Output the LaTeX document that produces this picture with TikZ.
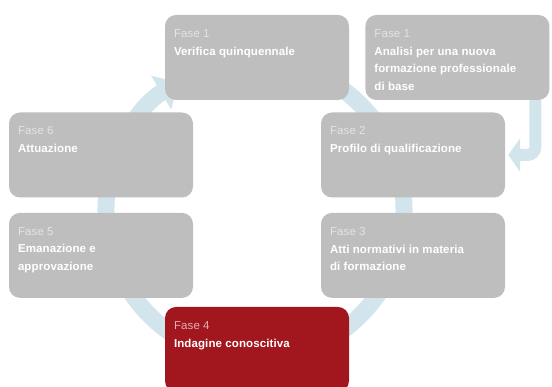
\documentclass[tikz,border=0pt]{standalone}
\usepackage{fontspec}
\setmainfont{Liberation Sans}
\newfontfamily\phasefont[LetterSpace=1]{Liberation Sans}
\usetikzlibrary{positioning,arrows.meta,calc,backgrounds}
\definecolor{phasegray}{RGB}{190,190,190}
\definecolor{phasered}{RGB}{162,22,30}
\definecolor{cyclelight}{RGB}{210,229,236}
\definecolor{labelgray}{RGB}{228,228,228}
\definecolor{labelred}{RGB}{228,176,178}

\newcommand{\fasetext}[3]{\parbox[c][85pt][t]{166pt}{\phasefont\fontsize{11.5pt}{17.8pt}\selectfont
  \vspace*{14.3pt}\textcolor{#1}{#2}\\\textbf{#3}}}

\begin{document}
\begin{tikzpicture}[
  x=1pt, y=1pt,
  phase/.style={fill=phasegray, rounded corners=11pt, text=white,
    minimum width=184pt, minimum height=85pt, inner sep=0pt},
  current/.style={phase, fill=phasered},
  cycle/.style={draw=cyclelight, line width=17pt, -{Triangle[width=38pt,length=20pt]}},
  feed/.style={draw=cyclelight, line width=12pt, rounded corners=8pt,
    -{Triangle[width=33pt,length=12pt]}}
]
\useasboundingbox (0,0) rectangle (552,387);
\clip (0,0) rectangle (552,387);
\coordinate (hub) at (255,177);

\node[phase] (verifica) at (257,329.5) {\fasetext{labelgray}{Fase 1}{Verifica quinquennale}};
\node[phase, right=16pt of verifica] (analisi)
  {\fasetext{labelgray}{Fase 1}{Analisi per una nuova\\formazione professionale\\di base}};
\node[phase] (qualifica) at (413,232) {\fasetext{labelgray}{Fase 2}{Profilo di qualificazione}};
\node[phase, below=15pt of qualifica] (atti)
  {\fasetext{labelgray}{Fase 3}{Atti normativi in materia\\di formazione}};
\node[current] (indagine) at (257,37.5) {\fasetext{labelred}{Fase 4}{Indagine conoscitiva}};
\node[phase] (attuazione) at (101,232) {\fasetext{labelgray}{Fase 6}{Attuazione}};
\node[phase, below=15pt of attuazione] (emanazione)
  {\fasetext{labelgray}{Fase 5}{Emanazione e\\approvazione}};

\begin{scope}[on background layer]
  \draw[cycle] ([shift={(80:149pt)}]hub) arc[start angle=80, end angle=-239, radius=149pt];
  \draw[feed] ($(analisi.south)+(78,0)$) |- ([xshift=3pt]qualifica.east);
\end{scope}
\end{tikzpicture}
\end{document}
